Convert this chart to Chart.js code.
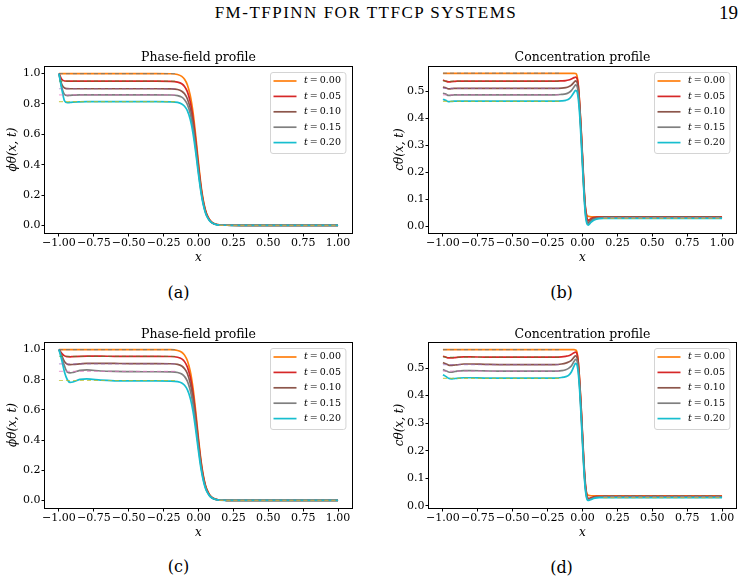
<!DOCTYPE html>
<html>
<head>
<meta charset="utf-8">
<script src="https://cdn.jsdelivr.net/npm/chart.js@4.4.1/dist/chart.umd.min.js"></script>
<style>
  html, body { margin: 0; padding: 0; background: #fff; }
  body { width: 746px; height: 582px; position: relative; overflow: hidden; }
  canvas { position: absolute; }
  .txt { position: absolute; color: #000; white-space: nowrap; }
  .cap { font: 16px/16px 'DejaVu Serif', serif; transform: translate(-50%, -50%); }
</style>
</head>
<body>
<div class="txt" style="left:0;width:732px;text-align:center;top:4px;font:17px/17px 'Liberation Serif',serif;letter-spacing:1.5px;">FM-TFPINN FOR TTFCP SYSTEMS</div>
<div class="txt" style="left:719px;top:3px;font:19px/19px 'Liberation Serif',serif;">19</div>

<canvas id="cA" width="373" height="230" style="left:0;top:40px"></canvas>
<canvas id="cB" width="373" height="230" style="left:373px;top:40px"></canvas>
<canvas id="cC" width="373" height="230" style="left:0;top:316px"></canvas>
<canvas id="cD" width="373" height="230" style="left:373px;top:316px"></canvas>

<div class="txt cap" style="left:178.5px;top:293px">(a)</div>
<div class="txt cap" style="left:561.5px;top:293px">(b)</div>
<div class="txt cap" style="left:178.5px;top:567px">(c)</div>
<div class="txt cap" style="left:561.5px;top:568px">(d)</div>

<script>
// shared x grid (finer around the interface)
const X = [-1, -0.98, -0.96, -0.94, -0.92, -0.9, -0.85, -0.8, -0.7, -0.6,
           -0.5, -0.4, -0.3, -0.2, -0.15, -0.12, -0.1, -0.08, -0.06, -0.05,
           -0.04, -0.03, -0.02, -0.01, 0, 0.01, 0.02, 0.03, 0.04, 0.05,
           0.06, 0.08, 0.1, 0.12, 0.15, 0.2, 0.3, 0.5, 0.75, 1];

const T_LABELS = ['t = 0.00', 't = 0.05', 't = 0.10', 't = 0.15', 't = 0.20'];
const X_TICKS = [-1, -0.75, -0.5, -0.25, 0, 0.25, 0.5, 0.75, 1];
const PHASE_TICKS = [0, 0.2, 0.4, 0.6, 0.8, 1.0];
const CONC_TICKS = [0, 0.1, 0.2, 0.3, 0.4, 0.5];

// (a) phase-field
const A_T000 = [1, 1, 1, 1, 1, 1, 1, 1, 1, 1,
                1, 1, 1, 0.999, 0.994, 0.982, 0.963, 0.927, 0.860, 0.811,
                0.749, 0.674, 0.590, 0.500, 0.410, 0.326, 0.251, 0.189, 0.140, 0.101,
                0.073, 0.037, 0.018, 0.009, 0.003, 0.001, 0, 0, 0, 0];
const A_T005 = [1, 0.962, 0.951, 0.95, 0.95, 0.95, 0.95, 0.95, 0.95, 0.95,
                0.95, 0.95, 0.95, 0.949, 0.944, 0.933, 0.915, 0.881, 0.817, 0.770,
                0.712, 0.640, 0.561, 0.475, 0.390, 0.310, 0.238, 0.180, 0.133, 0.096,
                0.069, 0.035, 0.017, 0.009, 0.003, 0.001, 0, 0, 0, 0];
const A_T010 = [1, 0.93, 0.905, 0.901, 0.9, 0.9, 0.9, 0.9, 0.9, 0.9,
                0.9, 0.9, 0.9, 0.899, 0.895, 0.884, 0.867, 0.834, 0.774, 0.730,
                0.674, 0.607, 0.531, 0.450, 0.369, 0.293, 0.226, 0.170, 0.126, 0.091,
                0.066, 0.033, 0.016, 0.008, 0.003, 0.001, 0, 0, 0, 0];
const A_T015 = [1, 0.91, 0.862, 0.855, 0.857, 0.858, 0.86, 0.86, 0.86, 0.86,
                0.86, 0.86, 0.86, 0.859, 0.855, 0.845, 0.828, 0.797, 0.740, 0.697,
                0.644, 0.580, 0.507, 0.430, 0.353, 0.280, 0.216, 0.163, 0.120, 0.087,
                0.063, 0.032, 0.015, 0.008, 0.003, 0.001, 0, 0, 0, 0];
const A_T020 = [1, 0.90, 0.82, 0.808, 0.81, 0.812, 0.814, 0.815, 0.815, 0.815,
                0.815, 0.815, 0.815, 0.814, 0.810, 0.800, 0.785, 0.756, 0.701, 0.661,
                0.610, 0.549, 0.481, 0.408, 0.334, 0.266, 0.205, 0.154, 0.114, 0.082,
                0.059, 0.030, 0.015, 0.007, 0.002, 0.001, 0, 0, 0, 0];
const A_EX_LEFT = [1, 0.95, 0.90, 0.86, 0.815];
const A_EX_RIGHT = [0, 0, 0, 0, 0];

// (b) concentration
const B_T000 = [0.566, 0.566, 0.566, 0.566, 0.566, 0.566, 0.566, 0.566, 0.566, 0.566,
                0.566, 0.566, 0.566, 0.566, 0.566, 0.566, 0.566, 0.566, 0.566, 0.565,
                0.558, 0.52, 0.45, 0.36, 0.25, 0.14, 0.07, 0.042, 0.037, 0.036,
                0.035, 0.035, 0.035, 0.035, 0.035, 0.035, 0.035, 0.035, 0.035, 0.035];
const B_T005 = [0.541, 0.537, 0.534, 0.535, 0.536, 0.537, 0.537, 0.537, 0.537, 0.537,
                0.537, 0.537, 0.537, 0.537, 0.538, 0.539, 0.541, 0.545, 0.550, 0.552,
                0.548, 0.52, 0.45, 0.36, 0.26, 0.155, 0.075, 0.035, 0.022, 0.024,
                0.028, 0.032, 0.034, 0.034, 0.034, 0.034, 0.034, 0.034, 0.034, 0.034];
const B_T010 = [0.515, 0.512, 0.508, 0.509, 0.51, 0.51, 0.51, 0.51, 0.51, 0.51,
                0.51, 0.51, 0.51, 0.51, 0.511, 0.513, 0.516, 0.522, 0.533, 0.538,
                0.534, 0.505, 0.44, 0.35, 0.25, 0.145, 0.065, 0.025, 0.014, 0.018,
                0.023, 0.029, 0.031, 0.032, 0.032, 0.032, 0.032, 0.032, 0.032, 0.032];
const B_T015 = [0.492, 0.489, 0.484, 0.485, 0.486, 0.486, 0.486, 0.486, 0.486, 0.486,
                0.486, 0.486, 0.486, 0.486, 0.488, 0.490, 0.494, 0.502, 0.516, 0.523,
                0.519, 0.49, 0.43, 0.34, 0.24, 0.135, 0.055, 0.018, 0.008, 0.012,
                0.018, 0.026, 0.029, 0.030, 0.031, 0.031, 0.031, 0.031, 0.031, 0.031];
const B_T020 = [0.470, 0.466, 0.461, 0.462, 0.463, 0.463, 0.463, 0.463, 0.463, 0.463,
                0.463, 0.463, 0.463, 0.463, 0.464, 0.466, 0.470, 0.480, 0.496, 0.503,
                0.499, 0.47, 0.41, 0.32, 0.22, 0.125, 0.045, 0.012, 0.004, 0.008,
                0.014, 0.022, 0.026, 0.028, 0.029, 0.029, 0.029, 0.029, 0.029, 0.029];
const B_EX_LEFT = [0.567, 0.537, 0.51, 0.486, 0.462];
const B_EX_RIGHT = [0.036, 0.034, 0.032, 0.031, 0.029];

// (c) phase-field
const C_T000 = [1, 1, 1, 1, 1, 1, 1, 1, 1, 1,
                1, 1, 1, 0.999, 0.994, 0.982, 0.963, 0.927, 0.860, 0.811,
                0.749, 0.674, 0.590, 0.500, 0.410, 0.326, 0.251, 0.189, 0.140, 0.101,
                0.073, 0.037, 0.018, 0.009, 0.003, 0.001, 0, 0, 0, 0];
const C_T005 = [1, 0.975, 0.958, 0.953, 0.952, 0.953, 0.955, 0.956, 0.956, 0.955,
                0.955, 0.955, 0.955, 0.954, 0.949, 0.938, 0.920, 0.885, 0.821, 0.774,
                0.715, 0.644, 0.563, 0.478, 0.392, 0.311, 0.240, 0.181, 0.134, 0.096,
                0.070, 0.035, 0.017, 0.009, 0.003, 0.001, 0, 0, 0, 0];
const C_T010 = [1, 0.96, 0.92, 0.903, 0.9, 0.901, 0.905, 0.909, 0.909, 0.908,
                0.907, 0.907, 0.907, 0.906, 0.902, 0.891, 0.873, 0.841, 0.780, 0.736,
                0.679, 0.611, 0.535, 0.453, 0.372, 0.296, 0.228, 0.171, 0.127, 0.092,
                0.066, 0.034, 0.016, 0.008, 0.003, 0.001, 0, 0, 0, 0];
const C_T015 = [1, 0.95, 0.89, 0.85, 0.845, 0.848, 0.862, 0.865, 0.858, 0.855,
                0.854, 0.853, 0.853, 0.852, 0.848, 0.838, 0.821, 0.791, 0.734, 0.692,
                0.639, 0.575, 0.503, 0.427, 0.350, 0.278, 0.214, 0.161, 0.119, 0.086,
                0.062, 0.032, 0.015, 0.008, 0.003, 0.001, 0, 0, 0, 0];
const C_T020 = [1, 0.93, 0.85, 0.80, 0.783, 0.785, 0.802, 0.805, 0.797, 0.793,
                0.792, 0.792, 0.792, 0.791, 0.787, 0.778, 0.763, 0.734, 0.681, 0.642,
                0.593, 0.534, 0.467, 0.396, 0.325, 0.258, 0.199, 0.150, 0.111, 0.080,
                0.058, 0.029, 0.014, 0.007, 0.002, 0.001, 0, 0, 0, 0];
const C_EX_LEFT = [1, 0.955, 0.905, 0.855, 0.795];
const C_EX_RIGHT = [0, 0, 0, 0, 0];

// (d) concentration
const D_T000 = [0.567, 0.567, 0.567, 0.567, 0.567, 0.567, 0.567, 0.567, 0.567, 0.567,
                0.567, 0.567, 0.567, 0.567, 0.567, 0.567, 0.567, 0.567, 0.567, 0.566,
                0.559, 0.52, 0.45, 0.36, 0.25, 0.145, 0.075, 0.045, 0.038, 0.037,
                0.036, 0.036, 0.036, 0.036, 0.036, 0.036, 0.036, 0.036, 0.036, 0.036];
const D_T005 = [0.543, 0.540, 0.537, 0.537, 0.538, 0.539, 0.541, 0.541, 0.540, 0.540,
                0.540, 0.540, 0.540, 0.540, 0.541, 0.543, 0.545, 0.550, 0.556, 0.558,
                0.553, 0.52, 0.45, 0.36, 0.26, 0.16, 0.085, 0.04, 0.027, 0.027,
                0.029, 0.032, 0.034, 0.034, 0.034, 0.034, 0.034, 0.034, 0.034, 0.034];
const D_T010 = [0.520, 0.516, 0.511, 0.510, 0.511, 0.512, 0.515, 0.515, 0.514, 0.513,
                0.513, 0.513, 0.513, 0.513, 0.515, 0.518, 0.522, 0.528, 0.540, 0.545,
                0.540, 0.505, 0.44, 0.35, 0.25, 0.15, 0.075, 0.035, 0.023, 0.024,
                0.026, 0.030, 0.032, 0.032, 0.032, 0.032, 0.032, 0.032, 0.032, 0.032];
const D_T015 = [0.495, 0.490, 0.486, 0.485, 0.487, 0.489, 0.491, 0.491, 0.490, 0.489,
                0.489, 0.489, 0.489, 0.489, 0.491, 0.494, 0.499, 0.508, 0.525, 0.532,
                0.528, 0.495, 0.43, 0.34, 0.24, 0.14, 0.068, 0.03, 0.021, 0.022,
                0.024, 0.028, 0.030, 0.031, 0.031, 0.031, 0.031, 0.031, 0.031, 0.031];
const D_T020 = [0.476, 0.470, 0.463, 0.461, 0.462, 0.463, 0.465, 0.465, 0.464, 0.464,
                0.464, 0.464, 0.464, 0.464, 0.466, 0.469, 0.474, 0.486, 0.508, 0.517,
                0.512, 0.48, 0.415, 0.325, 0.225, 0.13, 0.06, 0.027, 0.019, 0.020,
                0.022, 0.026, 0.028, 0.029, 0.029, 0.029, 0.029, 0.029, 0.029, 0.029];
const D_EX_LEFT = [0.567, 0.54, 0.513, 0.489, 0.463];
const D_EX_RIGHT = [0.036, 0.034, 0.032, 0.031, 0.029];

// reference (exact) segments are drawn only on the flat parts
const X_EX_LEFT = [-1, -0.15];
const X_EX_RIGHT = [0.15, 1];

const COLORS = ['#ff7f0e', '#d62728', '#8c564b', '#7f7f7f', '#17becf'];
const EX_COLORS = ['rgba(31,119,180,0.45)', 'rgba(44,160,44,0.45)', 'rgba(148,103,189,0.55)',
                   'rgba(227,119,194,0.6)', 'rgba(188,189,34,0.7)'];

Chart.defaults.font.family = "'DejaVu Serif', serif";
Chart.defaults.color = '#000';

const fmt = (v, d) => (v < -1e-9 ? '\u2212' : '') + Math.abs(v).toFixed(d);

// legend box inside the axes, matplotlib style
const boxLegend = {
  id: 'boxLegend',
  afterDatasetsDraw(chart) {
    const {ctx, chartArea: a} = chart;
    const items = chart.data.datasets.filter(d => d.inLegend);
    const tFont = "italic 9.5px 'DejaVu Serif'";
    const nFont = "9.5px 'DejaVu Serif'";
    const nums = items.map(d => d.label.split('=')[1].trim());
    ctx.save();
    ctx.font = tFont;
    const tw = ctx.measureText('t').width;
    ctx.font = nFont;
    const ew = ctx.measureText('=').width;
    const nw = Math.max(...nums.map(s => ctx.measureText(s).width));
    const w = 3.5 + 23 + 7.5 + tw + 2 + ew + 2 + nw + 4.5;
    const h = 81;
    const x0 = Math.round(a.right - 6.5 - w), y0 = Math.round(a.top + 6);
    ctx.beginPath();
    ctx.roundRect(x0 + 0.5, y0 + 0.5, w, h, 2.5);
    ctx.fillStyle = 'rgba(255,255,255,0.8)';
    ctx.fill();
    ctx.strokeStyle = '#d4d4d4';
    ctx.lineWidth = 1;
    ctx.stroke();
    items.forEach((d, i) => {
      const cy = y0 + 9 + i * 15.4;
      ctx.strokeStyle = d.borderColor;
      ctx.lineWidth = d.borderWidth;
      ctx.beginPath();
      ctx.moveTo(x0 + 3.5, cy);
      ctx.lineTo(x0 + 26.5, cy);
      ctx.stroke();
      ctx.fillStyle = '#000';
      ctx.textBaseline = 'middle';
      ctx.textAlign = 'left';
      let tx = x0 + 34;
      ctx.font = tFont;
      ctx.fillText('t', tx, cy);
      tx += tw + 2;
      ctx.font = nFont;
      ctx.fillText('=', tx, cy);
      tx += ew + 2;
      ctx.fillText(nums[i], tx, cy);
    });
    ctx.restore();
  }
};

// full box round the axes
const frame = {
  id: 'frame',
  afterDraw(chart) {
    const {ctx, chartArea: a} = chart;
    ctx.save();
    ctx.strokeStyle = '#000';
    ctx.lineWidth = 1;
    ctx.strokeRect(Math.round(a.left) - 0.5, Math.round(a.top) + 0.5,
                   Math.round(a.right - a.left) + 1, Math.round(a.bottom - a.top));
    ctx.restore();
  }
};

function buildDatasets(series, exLeft, exRight) {
  const ds = [];
  series.forEach((ys, i) => ds.push({
    label: T_LABELS[i],
    inLegend: true,
    data: X.map((x, k) => ({x: x, y: ys[k]})),
    borderColor: COLORS[i],
    borderWidth: 1.7,
    pointRadius: 0,
    cubicInterpolationMode: 'monotone',
    order: 10 - i
  }));
  exLeft.forEach((v, i) => ds.push({
    label: 'exact ' + T_LABELS[i],
    inLegend: false,
    data: [
      ...X_EX_LEFT.map(x => ({x: x, y: v})),
      {x: 0, y: null},
      ...X_EX_RIGHT.map(x => ({x: x, y: exRight[i]}))
    ],
    borderColor: EX_COLORS[i],
    borderWidth: 1.2,
    borderDash: [4, 3],
    pointRadius: 0,
    spanGaps: false,
    order: 5 - i
  }));
  return ds;
}

function makeChart(id, opt) {
  const tickGrid = {
    display: true, drawOnChartArea: false, drawTicks: true,
    tickLength: 3.5, tickColor: '#000', color: '#000', lineWidth: 1
  };
  return new Chart(document.getElementById(id), {
    type: 'line',
    data: { datasets: buildDatasets(opt.series, opt.exLeft, opt.exRight) },
    options: {
      responsive: false,
      animation: false,
      devicePixelRatio: 1,
      layout: { padding: { left: 0, right: opt.rightPad, top: 0, bottom: 0 } },
      plugins: {
        legend: { display: false },
        tooltip: { enabled: false },
        title: {
          display: true,
          text: opt.title,
          fullSize: false,
          color: '#000',
          font: { size: 12.5, weight: 'normal' },
          padding: { top: opt.titleTop, bottom: 26 - 15 - opt.titleTop }
        }
      },
      scales: {
        x: {
          type: 'linear',
          min: -1.1,
          max: 1.1,
          afterBuildTicks: s => { s.ticks = X_TICKS.map(v => ({value: v})); },
          afterFit: s => { s.height = opt.xAxisH; },
          ticks: { color: '#000', font: { size: 11 }, padding: 0, maxRotation: 0, autoSkip: false,
                   callback: v => fmt(v, 2) },
          grid: tickGrid,
          border: { display: false },
          title: { display: true, text: 'x', color: '#000', font: { size: 12, style: 'italic' },
                   padding: { top: 0, bottom: opt.xTitlePad } }
        },
        y: {
          min: opt.yMin,
          max: opt.yMax,
          afterBuildTicks: s => { s.ticks = opt.yTicks.map(v => ({value: v})); },
          afterFit: s => { s.width = opt.yAxisW; },
          ticks: { color: '#000', font: { size: 11 }, padding: 1, callback: v => fmt(v, 1) },
          grid: tickGrid,
          border: { display: false },
          title: { display: true, text: opt.yTitle, color: '#000', font: { size: 12, style: 'italic' },
                   padding: { top: opt.yTitlePad, bottom: 0 } }
        }
      }
    },
    plugins: [boxLegend, frame]
  });
}

makeChart('cA', {
  series: [A_T000, A_T005, A_T010, A_T015, A_T020], exLeft: A_EX_LEFT, exRight: A_EX_RIGHT,
  title: 'Phase-field profile', titleTop: 10.5, yTitle: '\u03d5\u03b8(x, t)',
  yMin: -0.05, yMax: 1.05, yTicks: PHASE_TICKS,
  yAxisW: 45, yTitlePad: 6, rightPad: 21, xAxisH: 37, xTitlePad: 4.8
});
makeChart('cB', {
  series: [B_T000, B_T005, B_T010, B_T015, B_T020], exLeft: B_EX_LEFT, exRight: B_EX_RIGHT,
  title: 'Concentration profile', titleTop: 10.5, yTitle: 'c\u03b8(x, t)',
  yMin: -0.025, yMax: 0.593, yTicks: CONC_TICKS,
  yAxisW: 56, yTitlePad: 19.5, rightPad: 10, xAxisH: 37, xTitlePad: 4.8
});
makeChart('cC', {
  series: [C_T000, C_T005, C_T010, C_T015, C_T020], exLeft: C_EX_LEFT, exRight: C_EX_RIGHT,
  title: 'Phase-field profile', titleTop: 11, yTitle: '\u03d5\u03b8(x, t)',
  yMin: -0.05, yMax: 1.05, yTicks: PHASE_TICKS,
  yAxisW: 45, yTitlePad: 6, rightPad: 21, xAxisH: 38, xTitlePad: 5.5
});
makeChart('cD', {
  series: [D_T000, D_T005, D_T010, D_T015, D_T020], exLeft: D_EX_LEFT, exRight: D_EX_RIGHT,
  title: 'Concentration profile', titleTop: 11, yTitle: 'c\u03b8(x, t)',
  yMin: -0.0085, yMax: 0.595, yTicks: CONC_TICKS,
  yAxisW: 56, yTitlePad: 19.5, rightPad: 10, xAxisH: 38, xTitlePad: 5.5
});
</script>
</body>
</html>
